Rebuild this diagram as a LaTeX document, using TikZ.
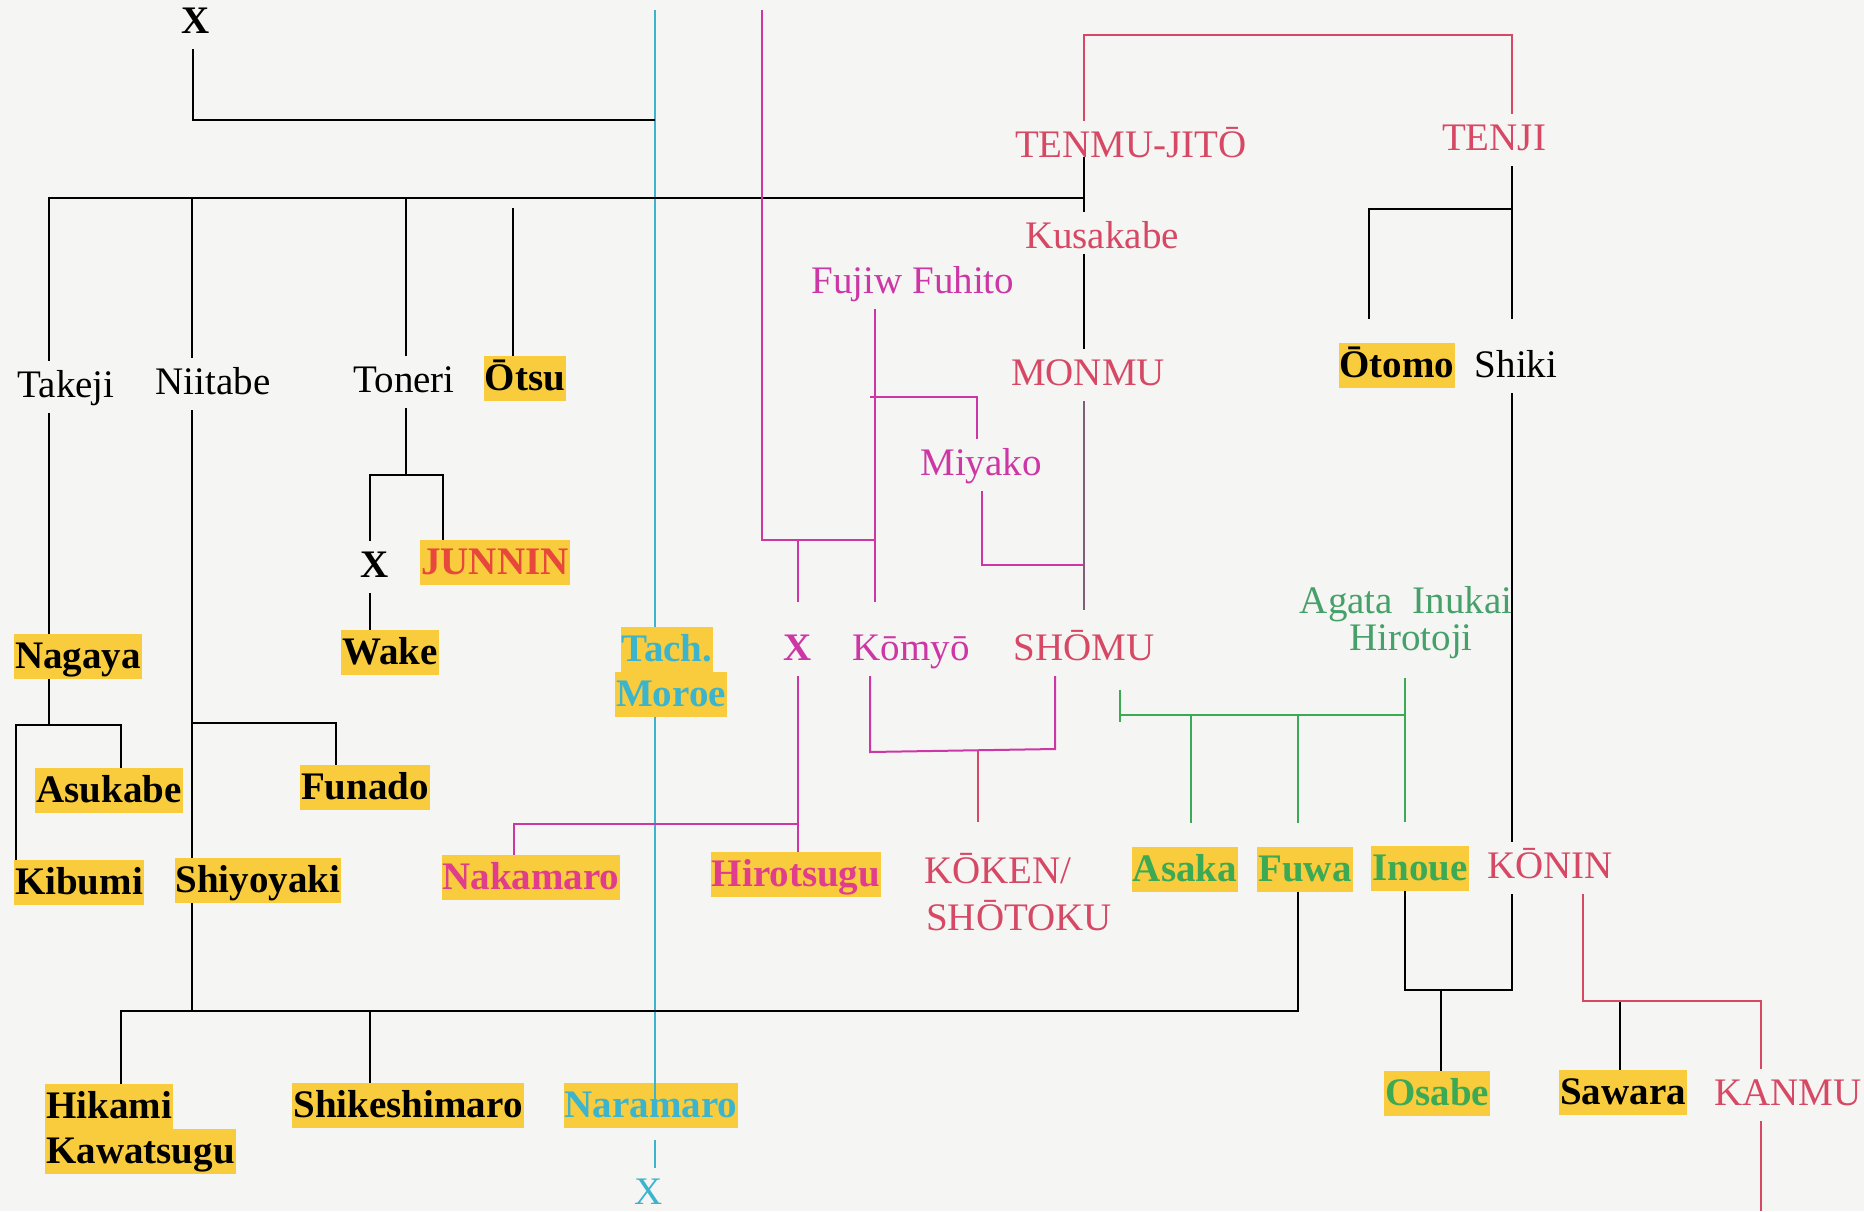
\documentclass[tikz,border=0pt]{standalone}
\usepackage{fontspec}
\setmainfont{Liberation Serif}
\definecolor{bgc}{RGB}{245,245,243}
\definecolor{redk}{RGB}{214,72,100}
\definecolor{magk}{RGB}{205,55,165}
\definecolor{magb}{RGB}{224,62,140}
\definecolor{junk}{RGB}{232,72,60}
\definecolor{grnk}{RGB}{60,170,85}
\definecolor{grnt}{RGB}{70,160,105}
\definecolor{cynk}{RGB}{60,180,205}
\definecolor{hly}{RGB}{248,204,60}
\definecolor{purk}{RGB}{125,95,120}
\tikzset{
  ptxt/.style={anchor=base, font=\fontsize{39}{45}\selectfont, text height=28pt, text depth=8pt, inner xsep=2pt, inner ysep=8pt},
  hbox/.style={anchor=base, font=\fontsize{39}{45}\selectfont\bfseries, fill=hly, text height=30pt, text depth=7pt, inner xsep=1pt, inner ysep=4pt},
  blk/.style={draw=black, line width=2.6pt},
  redl/.style={draw=redk, line width=2pt},
  magl/.style={draw=magk, line width=2pt},
  grnl/.style={draw=grnk, line width=2pt},
  cynl/.style={draw=cynk, line width=1.8pt},
  purl/.style={draw=purk, line width=2pt},
}
\begin{document}
\begin{tikzpicture}[x=1pt,y=-1pt]
\fill[bgc] (0,0) rectangle (1864,1211);
\path[use as bounding box] (0,0) rectangle (1864,1211);

% ---------- nodes (plain text) ----------
\node[ptxt,font=\fontsize{39}{45}\selectfont\bfseries] (xtop) at (196,33) {X};
\node[ptxt] (takeji) at (66,397) {Takeji};
\node[ptxt] (niitabe) at (213,394) {Niitabe};
\node[ptxt] (toneri) at (404,392) {Toneri};
\node[ptxt,text=redk] (tenmu) at (1131,157) {TENMU-JITŌ};
\node[ptxt,text=redk] (tenji) at (1494,150) {TENJI};
\node[ptxt,text=redk] (kusakabe) at (1102,248) {Kusakabe};
\node[ptxt,text=magk] (fuhito) at (913,293) {Fujiw Fuhito};
\node[ptxt,text=redk] (monmu) at (1088,385) {MONMU};
\node[ptxt] (shiki) at (1516,377) {Shiki};
\node[ptxt,text=magk] (miyako) at (981,475) {Miyako};
\node[ptxt,font=\fontsize{39}{45}\selectfont\bfseries] (xblk) at (375,577) {X};
\node[ptxt,font=\fontsize{39}{45}\selectfont\bfseries,text=magk] (xmag) at (798,660) {X};
\node[ptxt,text=magk] (komyo) at (911,660) {Kōmyō};
\node[ptxt,text=redk] (shomu) at (1084,660) {SHŌMU};
\node[ptxt,text=grnt] (agata) at (1406,613) {Agata\ \ Inukai};
\node[ptxt,text=grnt] (hirotoji) at (1411,650) {Hirotoji};
\node[ptxt,text=redk,anchor=base west] (kokenA) at (922,883) {KŌKEN/};
\node[ptxt,text=redk,anchor=base west] (kokenB) at (924,930) {SHŌTOKU};
\node[ptxt,text=redk] (konin) at (1550,878) {KŌNIN};
\node[ptxt,text=redk] (kanmu) at (1788,1105) {KANMU};
\node[ptxt,text=cynk] (xcyan) at (649,1204) {X};

% ---------- junction coordinates ----------
\coordinate (jx) at (193,120);
\coordinate (cyT) at (655,10);
\coordinate (b1) at (49,198);
\coordinate (b2) at (192,198);
\coordinate (b3) at (406,198);
\coordinate (b4) at (1084,198);
\coordinate (ob) at (513,208);
\coordinate (ng) at (49,725);
\coordinate (ngL) at (16,725);
\coordinate (ngR) at (121,725);
\coordinate (nf) at (192,723);
\coordinate (nfR) at (336,723);
\coordinate (tn) at (406,475);
\coordinate (tnL) at (370,475);
\coordinate (tnR) at (443,475);
\coordinate (sb) at (192,1011);
\coordinate (bbL) at (121,1011);
\coordinate (bbM) at (370,1011);
\coordinate (bbR) at (1298,1011);
\coordinate (tj) at (1512,209);
\coordinate (tjL) at (1369,209);
\coordinate (rk) at (1084,35);
\coordinate (rt) at (1512,35);
\coordinate (kn) at (1512,990);
\coordinate (knL) at (1405,990);
\coordinate (os) at (1441,990);
\coordinate (kr) at (1583,1001);
\coordinate (krR) at (1761,1001);
\coordinate (sw) at (1620,1001);
\coordinate (kmB) at (1761,1211);
\coordinate (mg) at (762,10);
\coordinate (mgC) at (762,540);
\coordinate (mgX) at (798,540);
\coordinate (mgR) at (875,540);
\coordinate (fh) at (875,397);
\coordinate (fhL) at (870,397);
\coordinate (fhR) at (977,397);
\coordinate (my) at (982,565);
\coordinate (myR) at (1084,565);
\coordinate (kmL) at (870,752);
\coordinate (kmR) at (1055,749);
\coordinate (kmM) at (978,750);
\coordinate (hn) at (798,824);
\coordinate (hnL) at (514,824);
\coordinate (gT) at (1120,690);
\coordinate (gB) at (1120,722);
\coordinate (gL) at (1120,715);
\coordinate (gR) at (1405,715);
\coordinate (g1) at (1191,715);
\coordinate (g2) at (1298,715);

% ---------- highlighted nodes (positions needed for anchors) ----------
\path
  node[hbox] (otsu) at (525,390) {Ōtsu}
  node[hbox] (otomo) at (1397,377) {Ōtomo}
  node[hbox,text=junk] (junnin) at (495,574) {JUNNIN}
  node[hbox] (nagaya) at (78,668) {Nagaya}
  node[hbox] (wake) at (390,664) {Wake}
  node[hbox,text=cynk] (tach) at (667,661) {Tach.}
  node[hbox,text=cynk] (moroe) at (671,706) {Moroe}
  node[hbox] (asukabe) at (109,802) {Asukabe}
  node[hbox] (funado) at (365,799) {Funado}
  node[hbox] (kibumi) at (79,894) {Kibumi}
  node[hbox] (shiyoyaki) at (258,892) {Shiyoyaki}
  node[hbox,text=magb] (nakamaro) at (531,889) {Nakamaro}
  node[hbox,text=magb] (hirotsugu) at (796,886) {Hirotsugu}
  node[hbox,text=grnk] (asaka) at (1185,881) {Asaka}
  node[hbox,text=grnk] (fuwa) at (1305,881) {Fuwa}
  node[hbox,text=grnk] (inoue) at (1420,880) {Inoue}
  node[hbox,anchor=base west] (hikami) at (45,1118) {Hikami}
  node[hbox,anchor=base west] (kawatsugu) at (45,1163) {Kawatsugu}
  node[hbox] (shikeshimaro) at (408,1117) {Shikeshimaro}
  node[hbox,text=cynk] (naramaro) at (651,1117) {Naramaro}
  node[hbox,text=grnk] (osabe) at (1437,1105) {Osabe}
  node[hbox] (sawara) at (1623,1104) {Sawara};

% ---------- cyan line ----------
\draw[cynl] (cyT) -- (tach.north -| cyT);
\draw[cynl] (moroe.south -| cyT) -- (naramaro.north -| cyT);
\draw[cynl,shorten <=12pt] (naramaro.south -| cyT) -- (xcyan.north -| cyT);

% ---------- black lines ----------
\draw[blk] (xtop.south -| jx) -- (jx) -- (jx -| cyT);
\draw[blk] (takeji.north -| b1) -- (b1) -- (b4);
\draw[blk] (tenmu.base -| b4) -- (kusakabe.north -| b4);
\draw[blk,shorten <=-10pt] (kusakabe.south -| b4) -- (monmu.north -| b4);
\draw[blk] (b2) -- (niitabe.north -| b2);
\draw[blk] (b3) -- (toneri.north -| b3);
\draw[blk] (ob) -- (otsu.north -| ob);
\draw[blk] (takeji.south -| b1) -- (nagaya.north -| b1);
\draw[blk] (nagaya.south -| ng) -- (ng);
\draw[blk] (kibumi.north -| ngL) -- (ngL) -- (ngR) -- (asukabe.north -| ngR);
\draw[blk] (niitabe.south -| b2) -- (shiyoyaki.north -| b2);
\draw[blk] (nf) -- (nfR) -- (funado.north -| nfR);
\draw[blk] (toneri.south -| tn) -- (tn);
\draw[blk] (xblk.north -| tnL) -- (tnL) -- (tnR) -- (junnin.north -| tnR);
\draw[blk] (xblk.south -| tnL) -- (wake.north -| tnL);
\draw[blk] (shiyoyaki.south -| sb) -- (sb);
\draw[blk] (hikami.north -| bbL) -- (bbL) -- (bbR) -- (fuwa.south -| bbR);
\draw[blk] (bbM) -- (shikeshimaro.north -| bbM);
\draw[blk,shorten >=22pt] (tenji.south -| tj) -- (shiki.north -| tj);
\draw[blk,shorten >=24pt] (tj) -- (tjL) -- (otomo.north -| tjL);
\draw[blk] (shiki.south -| tj) -- (konin.north -| tj);
\draw[blk] (konin.south -| kn) -- (kn) -- (knL) -- (inoue.south -| knL);
\draw[blk] (os) -- (osabe.north -| os);
\draw[blk] (sw) -- (sawara.north -| sw);

% ---------- red lines ----------
\draw[redl] (tenmu.north -| rk) -- (rk) -- (rt) -- (tenji.north -| rt);
\draw[redl] (konin.south -| kr) -- (kr) -- (krR) -- (kanmu.north -| krR);
\draw[redl] (kanmu.south -| kmB) -- (kmB);
\draw[redl,shorten >=25pt] (kmM) -- (kokenA.north -| kmM);

% ---------- magenta lines ----------
\draw[magl] (mg) -- (mgC) -- (mgR);
\draw[magl,shorten >=22pt] (mgX) -- (xmag.north -| mgX);
\draw[magl,shorten >=22pt] (fuhito.south -| fh) -- (komyo.north -| fh);
\draw[magl] (fhL) -- (fhR) -- (miyako.north -| fhR);
\draw[magl] (miyako.south -| my) -- (my) -- (myR);
\draw[purl,shorten >=14pt] (monmu.south -| myR) -- (shomu.north -| myR);
\draw[magl] (komyo.south -| kmL) -- (kmL) -- (kmR) -- (shomu.south -| kmR);
\draw[magl] (xmag.south -| hn) -- (hirotsugu.north -| hn);
\draw[magl] (hn) -- (hnL) -- (nakamaro.north -| hnL);

% ---------- green lines ----------
\draw[grnl] (gT) -- (gB);
\draw[grnl,shorten <=12pt] (hirotoji.south -| gR) -- (gR) -- (gL);
\draw[grnl,shorten >=24pt] (g1) -- (asaka.north -| g1);
\draw[grnl,shorten >=24pt] (g2) -- (fuwa.north -| g2);
\draw[grnl,shorten >=24pt] (gR) -- (inoue.north -| gR);

% ---------- highlighted nodes drawn on top ----------
\node[hbox] at (otsu.base) {Ōtsu};
\node[hbox] at (otomo.base) {Ōtomo};
\node[hbox,text=junk] at (junnin.base) {JUNNIN};
\node[hbox] at (nagaya.base) {Nagaya};
\node[hbox] at (wake.base) {Wake};
\node[hbox,text=cynk] at (tach.base) {Tach.};
\node[hbox,text=cynk] at (moroe.base) {Moroe};
\node[hbox] at (asukabe.base) {Asukabe};
\node[hbox] at (funado.base) {Funado};
\node[hbox] at (kibumi.base) {Kibumi};
\node[hbox] at (shiyoyaki.base) {Shiyoyaki};
\node[hbox,text=magb] at (nakamaro.base) {Nakamaro};
\node[hbox,text=magb] at (hirotsugu.base) {Hirotsugu};
\node[hbox,text=grnk] at (asaka.base) {Asaka};
\node[hbox,text=grnk] at (fuwa.base) {Fuwa};
\node[hbox,text=grnk] at (inoue.base) {Inoue};
\node[hbox,anchor=base west] at (hikami.base west) {Hikami};
\node[hbox,anchor=base west] at (kawatsugu.base west) {Kawatsugu};
\node[hbox] at (shikeshimaro.base) {Shikeshimaro};
\node[hbox,text=cynk] at (naramaro.base) {Naramaro};
\node[hbox,text=grnk] at (osabe.base) {Osabe};
\node[hbox] at (sawara.base) {Sawara};

% cyan line crossing over the Naramaro label
\draw[cynl] (naramaro.north -| cyT) -- (naramaro.base -| cyT);
\end{tikzpicture}
\end{document}
